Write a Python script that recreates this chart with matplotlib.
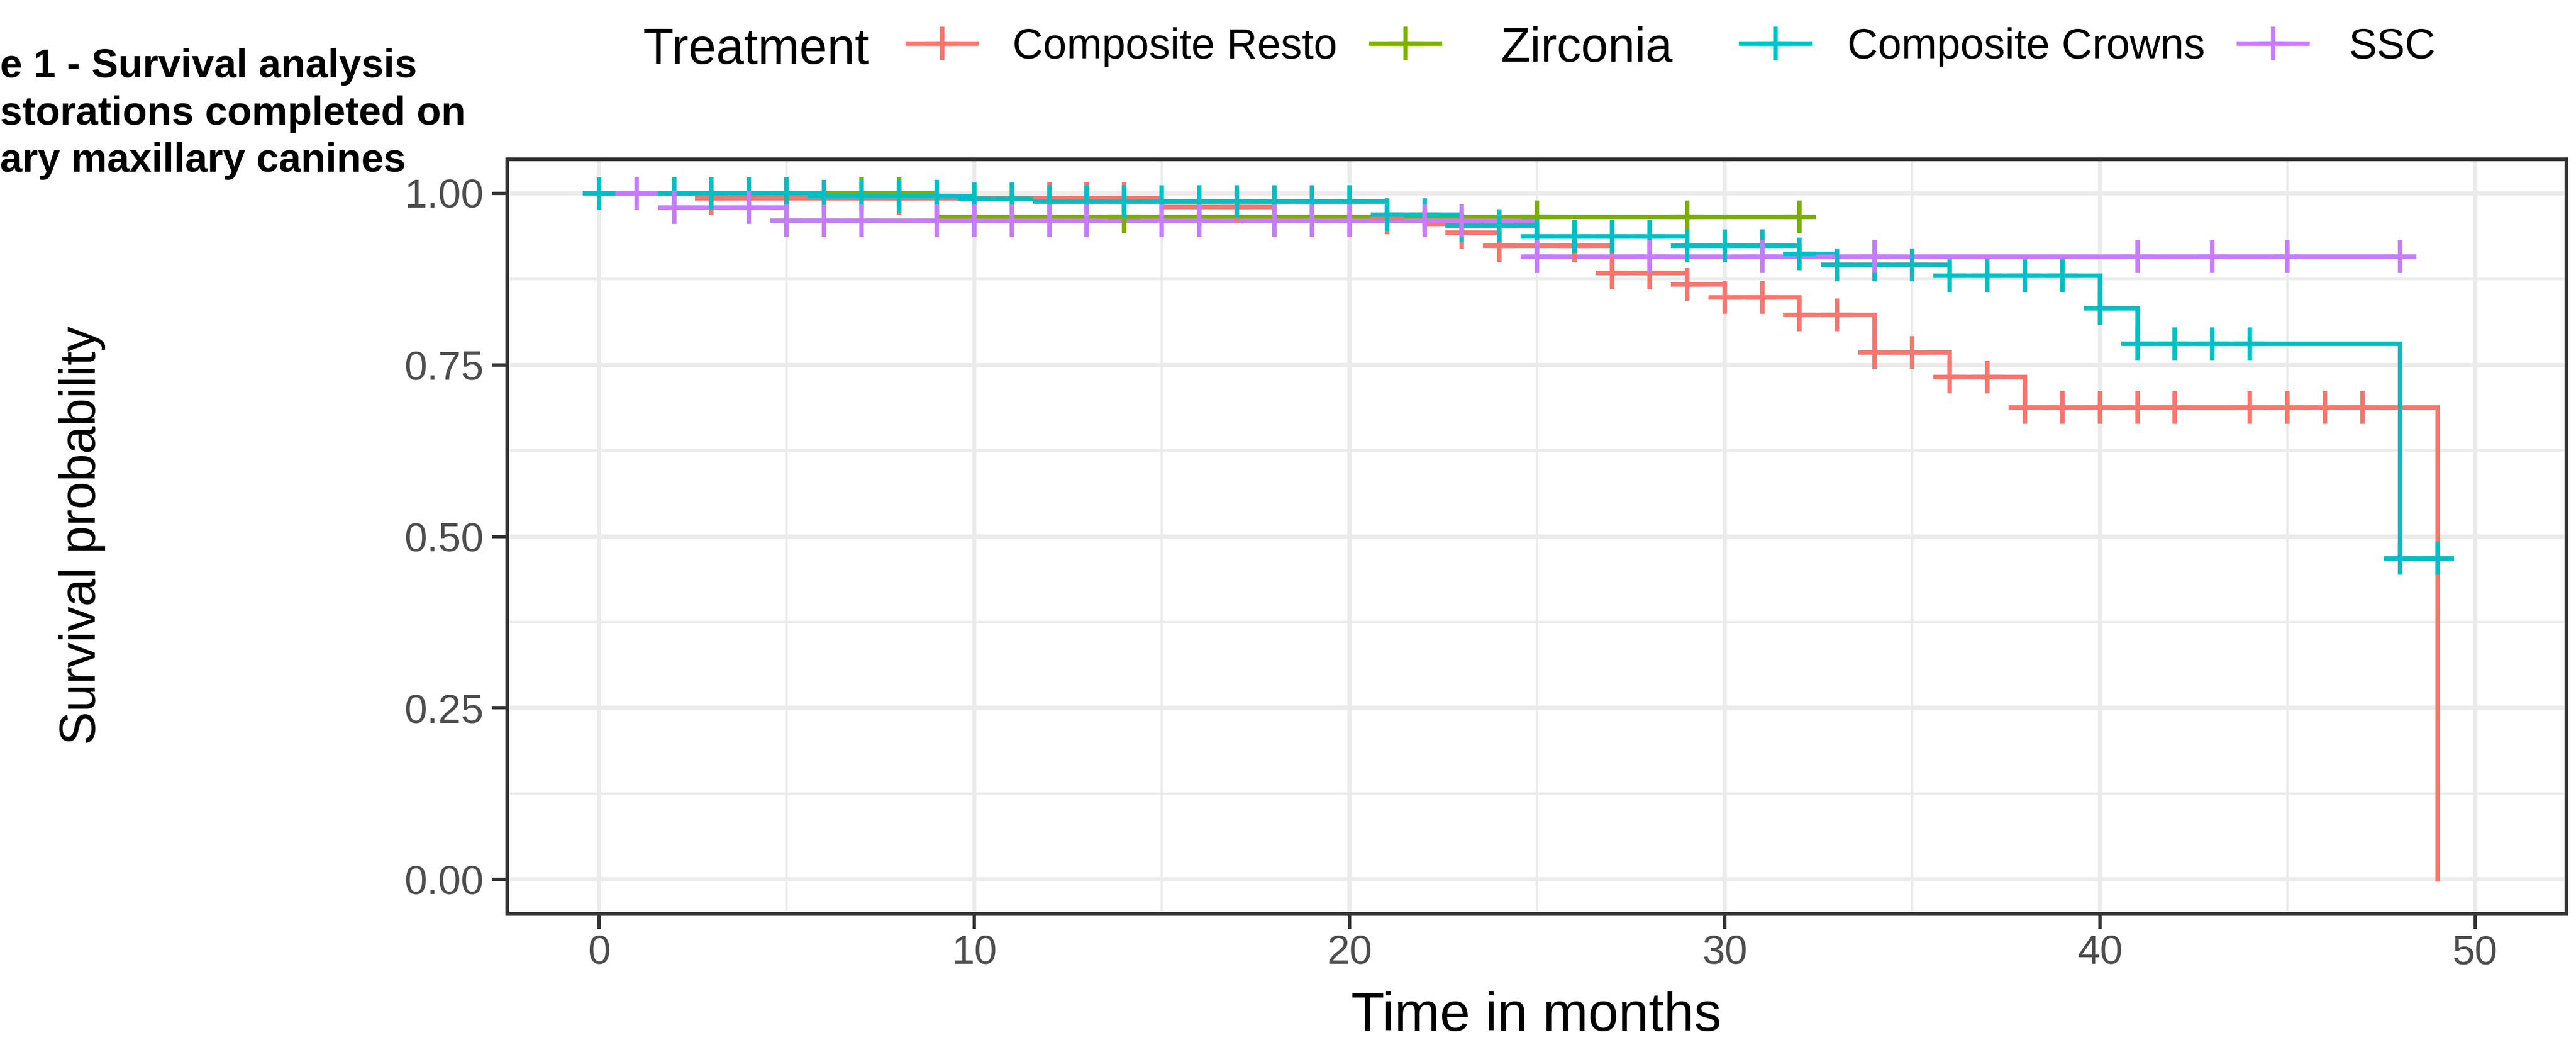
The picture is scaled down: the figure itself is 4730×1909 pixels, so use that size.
import numpy as np
import matplotlib
matplotlib.use("Agg")
import matplotlib.pyplot as plt
from matplotlib.lines import Line2D

plt.rcParams['font.family'] = ['Liberation Sans', 'DejaVu Sans']

# ---------------- data ----------------
groups = ['Composite Resto', 'Zirconia', 'Composite Crowns', 'SSC']
colors = ['#F8766D', '#7CAE00', '#00BFC4', '#C77CFF']

resto_times = [0, 3, 15, 18, 22, 23, 24, 27, 29, 30, 32, 34, 36, 38, 49]
resto_surv = [1.0, 0.993, 0.980, 0.964, 0.955, 0.943, 0.924, 0.884, 0.867,
              0.848, 0.823, 0.768, 0.732, 0.688, 0.0]
resto_censor = [3, 8, 12, 13, 14, 17, 21, 23, 24, 26, 27, 28, 29, 30, 31, 32,
                33, 34, 35, 36, 37, 38, 39, 40, 41, 42, 44, 45, 46, 47]
resto_end = 49

zirc_times = [0, 9]
zirc_surv = [1.0, 0.966]
zirc_censor = [7, 8, 14, 25, 29, 32]
zirc_end = 32

crown_times = [0, 6, 10, 12, 21, 23, 25, 29, 32, 33, 36, 40, 41, 48]
crown_surv = [1.0, 0.996, 0.992, 0.988, 0.969, 0.953, 0.937, 0.924, 0.912,
              0.896, 0.880, 0.832, 0.781, 0.468]
crown_censor = [0, 2, 3, 4, 5, 6, 7, 8, 9, 10, 11, 12, 13, 14, 15, 16, 17, 18,
                19, 20, 21, 22, 23, 24, 25, 26, 27, 28, 29, 30, 31, 32, 33, 34,
                35, 36, 37, 38, 39, 40, 41, 42, 43, 44, 48, 49]
crown_end = 49

ssc_times = [0, 2, 5, 25]
ssc_surv = [1.0, 0.979, 0.960, 0.908]
ssc_censor = [1, 2, 4, 5, 6, 7, 9, 10, 11, 12, 13, 15, 16, 18, 19, 20, 22, 23,
              25, 28, 31, 34, 41, 43, 45, 48]
ssc_end = 48

x_ticks = [0, 10, 20, 30, 40, 50]
y_ticks = [0.0, 0.25, 0.50, 0.75, 1.00]
y_ticklabels = ['0.00', '0.25', '0.50', '0.75', '1.00']

title_lines = ['e 1 - Survival analysis', 'storations completed on',
               'ary maxillary canines']
legend_title = 'Treatment'
x_label = 'Time in months'
y_label = 'Survival probability'

curves = [
    (resto_times, resto_surv, resto_censor, resto_end),
    (zirc_times, zirc_surv, zirc_censor, zirc_end),
    (crown_times, crown_surv, crown_censor, crown_end),
    (ssc_times, ssc_surv, ssc_censor, ssc_end),
]

# ---------------- figure ----------------
W, H = 4730, 1909
fig = plt.figure(figsize=(W / 100, H / 100), dpi=100)


def fx(px):
    return px / W


def fy(py):
    return 1 - py / H


ax = fig.add_axes([fx(931), fy(1677), fx(4712) - fx(931), fy(292) - fy(1677)])
ax.set_facecolor('white')

grid_col = '#EBEBEB'
ax.set_xlim(-2.45, 52.43)
ax.set_ylim(-0.05, 1.05)
ax.set_xticks(x_ticks)
ax.set_xticks([5, 15, 25, 35, 45], minor=True)
ax.set_yticks(y_ticks)
ax.set_yticks([0.125, 0.375, 0.625, 0.875], minor=True)
ax.set_yticklabels(y_ticklabels)
ax.grid(which='major', color=grid_col, linewidth=5.5, zorder=0)
ax.grid(which='minor', color=grid_col, linewidth=3.2, zorder=0)
ax.set_axisbelow(True)

for sp in ax.spines.values():
    sp.set_color('#333333')
    sp.set_linewidth(5)
    sp.set_zorder(10)

ax.tick_params(axis='both', which='major', length=20, width=4.5, color='#333333',
               labelsize=54, labelcolor='#4D4D4D')
ax.tick_params(axis='x', which='major', pad=8)
ax.tick_params(axis='y', which='major', pad=11)
ax.tick_params(axis='both', which='minor', length=0)

line_w = 6
for i, (times, surv, cens, end) in enumerate(curves):
    xs = list(times) + [end]
    ys = list(surv) + [surv[-1]]
    ax.step(xs, ys, where='post', color=colors[i], linewidth=line_w,
            zorder=2 + i * 0.01, solid_joinstyle='miter')

for i, (times, surv, cens, end) in enumerate(curves):
    t_arr = np.asarray(times)
    s_arr = np.asarray(surv)
    c_arr = np.asarray(cens)
    idx = np.searchsorted(t_arr, c_arr, side='right') - 1
    ax.plot(c_arr, s_arr[idx], linestyle='none', marker='+', markersize=43,
            markeredgewidth=6, color=colors[i], zorder=3 + i * 0.01)

# axis titles
fig.text(fx(2821), fy(1892), x_label, fontsize=72, ha='center', va='baseline',
         color='black')
fig.text(fx(151), fy(983), y_label, fontsize=66, ha='center', va='center',
         rotation=90, color='black')

# figure caption (cropped in the source image)
for line, base in zip(title_lines, [142, 229, 315]):
    fig.text(0, fy(base), line, fontsize=53, fontweight='bold', ha='left',
             va='baseline', color='black')

# legend (horizontal, ggplot style, title on the left)
fig.text(fx(1181), fy(117), legend_title, fontsize=66, ha='left',
         va='baseline', color='black')
key_centers = [1730, 2581, 3260, 4174]
label_lefts = [1859, 2755, 3392, 4313]
label_sizes = [56, 64, 56, 56]
label_bases = [107, 113, 107, 107]
for i, g in enumerate(groups):
    cx = key_centers[i]
    fig.add_artist(Line2D([fx(cx - 63), fx(cx + 63)], [fy(80), fy(80)],
                          transform=fig.transFigure, color=colors[i],
                          linewidth=line_w))
    fig.add_artist(Line2D([fx(cx)], [fy(80)], transform=fig.transFigure,
                          color=colors[i], marker='+', markersize=45,
                          markeredgewidth=6, linestyle='none'))
    fig.text(fx(label_lefts[i]), fy(label_bases[i]), g, fontsize=label_sizes[i],
             ha='left', va='baseline', color='black')

fig.savefig('out.png', dpi=100, facecolor='white')
